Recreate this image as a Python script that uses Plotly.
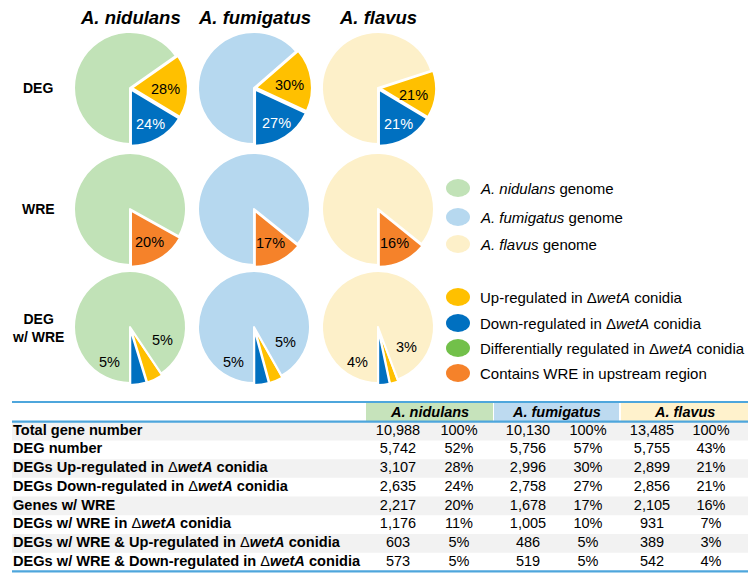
import math
import plotly.graph_objects as go

W, H = 750, 575
FONT = "Liberation Sans, Arial, Helvetica, sans-serif"

# ---------------- data ----------------
species = ["A. nidulans", "A. fumigatus", "A. flavus"]
pie_rows = ["DEG", "WRE", "DEG<br>w/ WRE"]

# percentages printed on the pies
deg_up_pct = [28, 30, 21]
deg_down_pct = [24, 27, 21]
wre_pct = [20, 17, 16]
degwre_up_pct = [5, 5, 3]
degwre_down_pct = [5, 5, 4]

# slice sizes as drawn in the figure (share of the circle, %)
deg_up_slice = [18.3, 18.3, 13.6]
deg_down_slice = [16.4, 18.1, 16.4]
wre_slice = [16.9, 14.2, 14.2]
degwre_up_slice = [4.7, 4.0, 2.4]
degwre_down_slice = [4.7, 4.2, 3.3]

legend_genome = ["<i>A. nidulans</i> genome", "<i>A. fumigatus</i> genome", "<i>A. flavus</i> genome"]
legend_cats = ["Up-regulated in \u0394<i>wetA</i> conidia",
               "Down-regulated in \u0394<i>wetA</i> conidia",
               "Differentially regulated in \u0394<i>wetA</i> conidia",
               "Contains WRE in upstream region"]

row_labels = [
    "<b>Total gene number</b>",
    "<b>DEG number</b>",
    "<b>DEGs Up-regulated in </b>\u0394<b><i>wetA</i> conidia</b>",
    "<b>DEGs Down-regulated in </b>\u0394<b><i>wetA</i> conidia</b>",
    "<b>Genes w/ WRE</b>",
    "<b>DEGs w/ WRE in </b>\u0394<b><i>wetA</i> conidia</b>",
    "<b>DEGs w/ WRE &amp; Up-regulated in </b>\u0394<b><i>wetA</i> conidia</b>",
    "<b>DEGs w/ WRE &amp; Down-regulated in </b>\u0394<b><i>wetA</i> conidia</b>",
]
nid_counts = [10988, 5742, 3107, 2635, 2217, 1176, 603, 573]
nid_pct = [100, 52, 28, 24, 20, 11, 5, 5]
fum_counts = [10130, 5756, 2996, 2758, 1678, 1005, 486, 519]
fum_pct = [100, 57, 30, 27, 17, 10, 5, 5]
fla_counts = [13485, 5755, 2899, 2856, 2105, 931, 389, 542]
fla_pct = [100, 43, 21, 21, 16, 7, 3, 4]

# ---------------- styles ----------------
genome_colors = ["#c1e2b7", "#b6d8ef", "#fdf0c9"]
header_colors = ["#c6e3bb", "#bddaf0", "#fff2cc"]
UP, DOWN, DIFF, WREC = "#ffc000", "#0070c0", "#72c04a", "#f5822a"
RULE = "#4ea6dc"
GRAY = "#f2f2f2"

pie_cx = [130, 254, 378]
pie_cy = [88, 209, 327]
R = 56
PULL = 0.035

fig = go.Figure()
shapes, annos = [], []


def add_pie(cx, cy, values, colors, pulls, colored_share):
    # colored slices end at 6 o'clock, drawn clockwise from their start
    half = R * (1 + max(pulls))
    fig.add_trace(go.Pie(
        values=values, sort=False, direction="clockwise",
        rotation=180 - colored_share * 3.6,
        marker=dict(colors=colors, line=dict(color="white", width=2)),
        pull=pulls, textinfo="none", hoverinfo="skip",
        domain=dict(x=[(cx - half) / W, (cx + half) / W],
                    y=[1 - (cy + half) / H, 1 - (cy - half) / H]),
    ))


def polar(cx, cy, ang, r):
    a = math.radians(ang)
    return cx + r * math.sin(a), cy - r * math.cos(a)


def label(x, y, text, color="black", size=14.5):
    annos.append(dict(x=x, y=y, xref="x", yref="y", text=text, showarrow=False,
                      font=dict(family=FONT, size=size, color=color)))


for j in range(3):
    cx = pie_cx[j]
    # DEG row
    cy = pie_cy[0]
    d, u = deg_down_slice[j], deg_up_slice[j]
    add_pie(cx, cy, [u, d, 100 - d - u], [UP, DOWN, genome_colors[j]], [PULL, PULL, 0], u + d)
    x, y = polar(cx, cy, 180 - d * 3.6 / 2, 0.74 * R)
    label(x, y, f"{deg_down_pct[j]}%", "white")
    x, y = polar(cx, cy, 180 - d * 3.6 - u * 3.6 / 2 + 4, 0.64 * R)
    label(x, y, f"{deg_up_pct[j]}%")
    # WRE row
    cy = pie_cy[1]
    w = wre_slice[j]
    add_pie(cx, cy, [w, 100 - w], [WREC, genome_colors[j]], [PULL, 0], w)
    x, y = polar(cx, cy, 180 - w * 3.6 / 2, 0.68 * R)
    label(x, y, f"{wre_pct[j]}%")
    # DEG w/ WRE row
    cy = pie_cy[2]
    d, u = degwre_down_slice[j], degwre_up_slice[j]
    add_pie(cx, cy, [u, d, 100 - d - u], [UP, DOWN, genome_colors[j]], [PULL, PULL, 0], u + d)
    x, y = polar(cx, cy, 210, 0.72 * R)
    label(x, y, f"{degwre_down_pct[j]}%")
    x, y = polar(cx, cy, 180 - (d + u) * 3.6 - 34, 0.62 * R)
    label(x, y, f"{degwre_up_pct[j]}%")

# column titles and row titles
for j, sp in enumerate(species):
    annos.append(dict(x=pie_cx[j], y=17, xref="x", yref="y", text=f"<b><i>{sp}</i></b>",
                      showarrow=False, font=dict(family=FONT, size=18.5, color="black")))
for i, rt in enumerate(pie_rows):
    annos.append(dict(x=38, y=pie_cy[i] + (0 if i < 2 else 1), xref="x", yref="y",
                      text=f"<b>{rt}</b>", showarrow=False,
                      font=dict(family=FONT, size=14, color="black")))

# legend
leg_y = [188, 217, 244, 297, 323, 348, 373]
leg_colors = genome_colors + [UP, DOWN, DIFF, WREC]
leg_text = legend_genome + legend_cats
for yy, c, t in zip(leg_y, leg_colors, leg_text):
    shapes.append(dict(type="circle", xref="x", yref="y", x0=446, x1=470, y0=yy - 9, y1=yy + 9,
                       fillcolor=c, line=dict(width=0), layer="above"))
    annos.append(dict(x=478, y=yy, xref="x", yref="y", text=t, xanchor="left",
                      showarrow=False, font=dict(family=FONT, size=15, color="black")))

# ---------------- table ----------------
T_LEFT, T_RIGHT = 12, 748
HEAD_TOP, HEAD_BOT = 402, 421.7
ROW_H = 18.72
header_x = [(366, 493), (494, 619), (621, 748)]
col_x = [398, 459, 528, 588, 652, 711]

n_rows = len(row_labels)
row_y = [HEAD_BOT + (i + 0.5) * ROW_H for i in range(n_rows)]

for i in range(0, n_rows, 2):
    shapes.append(dict(type="rect", xref="x", yref="y", x0=T_LEFT, x1=T_RIGHT,
                       y0=HEAD_BOT + i * ROW_H, y1=HEAD_BOT + (i + 1) * ROW_H,
                       fillcolor=GRAY, line=dict(width=0), layer="below"))
for (x0, x1), c, sp in zip(header_x, header_colors, species):
    shapes.append(dict(type="rect", xref="x", yref="y", x0=x0, x1=x1, y0=HEAD_TOP, y1=HEAD_BOT,
                       fillcolor=c, line=dict(width=0), layer="below"))
    annos.append(dict(x=(x0 + x1) / 2, y=(HEAD_TOP + HEAD_BOT) / 2 + 0.5, xref="x", yref="y",
                      text=f"<b><i>{sp}</i></b>", showarrow=False,
                      font=dict(family=FONT, size=14.5, color="black")))
table_bottom = HEAD_BOT + n_rows * ROW_H
for yy in [HEAD_TOP, HEAD_BOT, table_bottom]:
    shapes.append(dict(type="line", xref="x", yref="y", x0=T_LEFT, x1=T_RIGHT, y0=yy, y1=yy,
                       line=dict(color=RULE, width=2.2), layer="above"))

fig.add_trace(go.Scatter(x=[T_LEFT + 1] * n_rows, y=row_y, mode="text", text=row_labels,
                         textposition="middle right", hoverinfo="skip",
                         textfont=dict(family=FONT, size=14.6, color="black")))
cols = [[f"{v:,}" for v in nid_counts], [f"{v}%" for v in nid_pct],
        [f"{v:,}" for v in fum_counts], [f"{v}%" for v in fum_pct],
        [f"{v:,}" for v in fla_counts], [f"{v}%" for v in fla_pct]]
for cx, vals in zip(col_x, cols):
    fig.add_trace(go.Scatter(x=[cx] * n_rows, y=row_y, mode="text", text=vals,
                             textposition="middle center", hoverinfo="skip",
                             textfont=dict(family=FONT, size=14.5, color="black")))

fig.update_layout(
    width=W, height=H, margin=dict(l=0, r=0, t=0, b=0),
    paper_bgcolor="white", plot_bgcolor="rgba(0,0,0,0)",
    showlegend=False, hovermode=False,
    xaxis=dict(range=[0, W], visible=False, domain=[0, 1], fixedrange=True),
    yaxis=dict(range=[H, 0], visible=False, domain=[0, 1], fixedrange=True),
    shapes=shapes, annotations=annos,
)
fig.write_html("out.html", config={"displayModeBar": False},
               post_script="document.body.style.margin='0px';document.body.style.overflow='hidden';")
